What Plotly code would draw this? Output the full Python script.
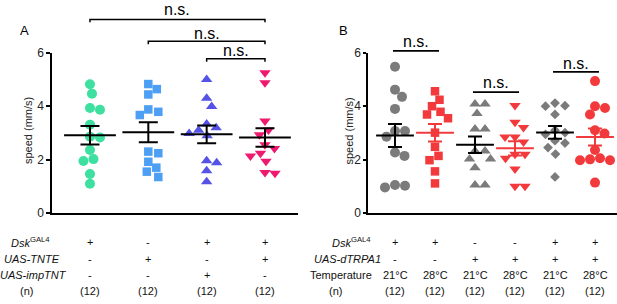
import numpy as np
import plotly.graph_objects as go

# ---------------- data ----------------
a_green = [4.82, 4.47, 3.93, 3.87, 3.31, 2.86, 2.83, 2.36, 2.02, 1.95, 1.46, 1.10]
a_blue = [4.83, 4.64, 4.44, 3.88, 3.79, 3.67, 2.30, 2.24, 1.92, 1.70, 1.55, 1.35]
a_purple = [5.00, 4.30, 3.99, 3.33, 3.19, 3.10, 2.98, 2.89, 1.96, 1.88, 1.58, 1.17]
a_pink = [5.25, 4.88, 3.45, 3.11, 2.93, 2.56, 2.42, 2.24, 2.14, 1.94, 1.52, 1.49]

b_gray_c = [5.48, 4.62, 4.35, 3.90, 3.07, 3.07, 2.86, 2.27, 2.14, 1.05, 0.96, 1.02]
b_red_s = [4.56, 4.24, 4.00, 3.79, 3.69, 3.55, 3.01, 2.48, 2.14, 1.98, 1.56, 1.11]
b_gray_t = [4.08, 4.08, 3.73, 3.15, 3.15, 2.32, 2.32, 2.02, 2.02, 1.70, 1.05, 1.05]
b_red_t = [4.03, 3.40, 3.20, 2.85, 2.85, 2.66, 2.20, 2.20, 2.05, 1.65, 1.00, 1.00]
b_gray_d = [4.12, 4.02, 4.00, 3.69, 3.10, 3.01, 2.95, 2.71, 2.62, 2.45, 2.21, 1.35]
b_red_c = [4.94, 4.00, 3.93, 3.69, 3.10, 2.98, 2.36, 2.05, 2.01, 1.98, 1.98, 1.14]

y_ticks = [0, 2, 4, 6]
y_title = "speed (mm/s)"
sig_label = "n.s."
a_sig_pairs = [(0, 3), (1, 3), (2, 3)]
b_sig_pairs = [(0, 1), (2, 3), (4, 5)]

a_row_labels = ["<i>Dsk</i><sup>GAL4</sup>", "<i>UAS-TNTE</i>", "<i>UAS-impTNT</i>", "(n)"]
a_rows = [["+", "-", "+", "+"],
          ["-", "+", "-", "+"],
          ["-", "-", "+", "-"],
          ["(12)", "(12)", "(12)", "(12)"]]
b_row_labels = ["<i>Dsk</i><sup>GAL4</sup>", "<i>UAS-dTRPA1</i>", "Temperature", "(n)"]
b_rows = [["+", "+", "-", "-", "+", "+"],
          ["-", "-", "+", "+", "+", "+"],
          ["21°C", "28°C", "21°C", "28°C", "21°C", "28°C"],
          ["(12)"] * 6]

# ---------------- geometry ----------------
W, H = 617, 304
FONT = "Arial, Liberation Sans, sans-serif"
A_dom = [52 / W, 298 / W]
A_rng = [-0.651, 3.566]
B_dom = [368 / W, 1.0]
B_rng = [-0.675, 5.55]
Y_dom = [1 - 216 / H, 1 - 48 / H]
Y_rng = [0, 6]
PX_PER_Y = (216 - 48) / 6.0


def xpaper(dom, rng, v):
    return dom[0] + (v - rng[0]) / (rng[1] - rng[0]) * (dom[1] - dom[0])


def ypx(p):
    return 1 - p / H


def swarm(values, px_per_x, d=10.0):
    vals = np.asarray(values, dtype=float)
    order = np.argsort(-vals)
    placed = []
    offs = np.zeros(len(vals))
    steps = [0.0]
    for k in range(1, 120):
        steps += [k * 0.5, -k * 0.5]
    for i in order:
        y = vals[i] * PX_PER_Y
        for s in steps:
            if all((s - px) ** 2 + (y - py) ** 2 >= d * d for px, py in placed):
                placed.append((s, y))
                offs[i] = s
                break
    return offs / px_per_x


A_pxx = (A_dom[1] - A_dom[0]) * W / (A_rng[1] - A_rng[0])
B_pxx = (B_dom[1] - B_dom[0]) * W / (B_rng[1] - B_rng[0])

fig = go.Figure()

GREEN, BLUE, PURPLE, PINK = "#3ee0a0", "#4c9ff2", "#5552e6", "#ef1a6f"
GRAY, RED = "#7b7b7b", "#f23a3c"

a_series = [(a_green, "circle", 10, GREEN, "black"),
            (a_blue, "square", 8.5, BLUE, "black"),
            (a_purple, "triangle-up", 10, PURPLE, "black"),
            (a_pink, "triangle-down", 10, PINK, "black")]
b_series = [(b_gray_c, "circle", 10, GRAY, "black"),
            (b_red_s, "square", 8.5, RED, RED),
            (b_gray_t, "triangle-up", 10, GRAY, "black"),
            (b_red_t, "triangle-down", 10, RED, RED),
            (b_gray_d, "diamond", 7.5, GRAY, "black"),
            (b_red_c, "circle", 10, RED, RED)]


def add_panel(series, xa, ya, pxx, mean_w, cap_w):
    for i, (vals, sym, size, col, mcol) in enumerate(series):
        offs = swarm(vals, pxx)
        fig.add_trace(go.Scatter(
            x=i + offs, y=vals, mode="markers", xaxis=xa, yaxis=ya,
            marker=dict(symbol=sym, size=size, color=col, line=dict(width=0)),
            cliponaxis=False, showlegend=False, hoverinfo="skip"))
    for i, (vals, sym, size, col, mcol) in enumerate(series):
        v = np.asarray(vals)
        m = v.mean()
        sem = v.std(ddof=1) / np.sqrt(len(v))
        fig.add_trace(go.Scatter(
            x=[i], y=[m], mode="markers", xaxis=xa, yaxis=ya,
            marker=dict(symbol="line-ew-open", size=mean_w, color=mcol,
                        line=dict(width=2, color=mcol)),
            error_y=dict(type="data", array=[sem], visible=True, color=mcol,
                         thickness=2, width=cap_w),
            cliponaxis=False, showlegend=False, hoverinfo="skip"))


add_panel(a_series, "x", "y", A_pxx, 37, 9.5)
add_panel(b_series, "x2", "y2", B_pxx, 27, 7)

axis_common = dict(showgrid=False, zeroline=False, showline=True, linecolor="black",
                   linewidth=1.5)
yax = dict(axis_common, range=Y_rng, domain=Y_dom, tickvals=y_ticks, ticks="outside",
           ticklen=4, tickwidth=1.5, tickcolor="black",
           tickfont=dict(family=FONT, size=12, color="#222"))
fig.update_layout(
    width=W, height=H, margin=dict(l=0, r=0, t=0, b=0),
    paper_bgcolor="white", plot_bgcolor="white",
    xaxis=dict(axis_common, domain=A_dom, range=A_rng, showticklabels=False, ticks=""),
    yaxis=dict(yax, anchor="x"),
    xaxis2=dict(axis_common, domain=B_dom, range=B_rng, showticklabels=False, ticks="",
                anchor="y2"),
    yaxis2=dict(yax, anchor="x2", ticklen=3),
)

ann = []
shapes = []


def label(text, x, y, size=11, color="#111", **kw):
    d = dict(text=text, x=x, y=y, xref="paper", yref="paper", xanchor="center",
             yanchor="middle", showarrow=False,
             font=dict(family=FONT, size=size, color=color))
    d.update(kw)
    ann.append(d)


label("A", 24 / W, ypx(24.7), size=13, color="black")
label("B", 343 / W, ypx(24.7), size=13, color="black")
for xp in (28, 349.5):
    label(y_title, xp / W, ypx(130), size=11, color="#222", textangle=-90)

a_line_px = [13, 36, 54.3]
a_text_px = [2.7, 27.7, 46.1]
for (g1, g2), lp, tp in zip(a_sig_pairs, a_line_px, a_text_px):
    x1 = xpaper(A_dom, A_rng, g1)
    x2 = xpaper(A_dom, A_rng, g2)
    y0 = ypx(lp)
    yt = ypx(lp + 3)
    shapes.append(dict(type="path", xref="paper", yref="paper",
                       path=f"M{x1},{yt} L{x1},{y0} L{x2},{y0} L{x2},{yt}",
                       line=dict(color="black", width=1.5)))
    label(sig_label, (x1 + x2) / 2, ypx(tp), size=16, color="black")

b_line_px = [46, 89.3, 68]
b_text_px = [36.1, 79.4, 59.4]
for (g1, g2), lp, tp in zip(b_sig_pairs, b_line_px, b_text_px):
    x1 = xpaper(B_dom, B_rng, g1 - 0.05)
    x2 = xpaper(B_dom, B_rng, g2 + 0.1)
    y0 = ypx(lp)
    shapes.append(dict(type="line", xref="paper", yref="paper", x0=x1, x1=x2, y0=y0,
                       y1=y0, line=dict(color="black", width=1.7)))
    label(sig_label, (x1 + x2) / 2, ypx(tp), size=16, color="black")

row_px = [246.2, 264.0, 281.0, 297.4]
a_lab_x = [30, 32, 33, 26]
b_lab_x = [351, 347, 341, 336]
for r, (lab, vals) in enumerate(zip(a_row_labels, a_rows)):
    label(lab, a_lab_x[r] / W, ypx(row_px[r]))
    for i, t in enumerate(vals):
        label(t, xpaper(A_dom, A_rng, i), ypx(row_px[r]))
for r, (lab, vals) in enumerate(zip(b_row_labels, b_rows)):
    label(lab, b_lab_x[r] / W, ypx(row_px[r]))
    for i, t in enumerate(vals):
        label(t, xpaper(B_dom, B_rng, i), ypx(row_px[r]))

fig.update_layout(annotations=ann, shapes=shapes)
fig.write_html("out.html", config={"displayModeBar": False},
               post_script="document.body.style.margin='0';")
